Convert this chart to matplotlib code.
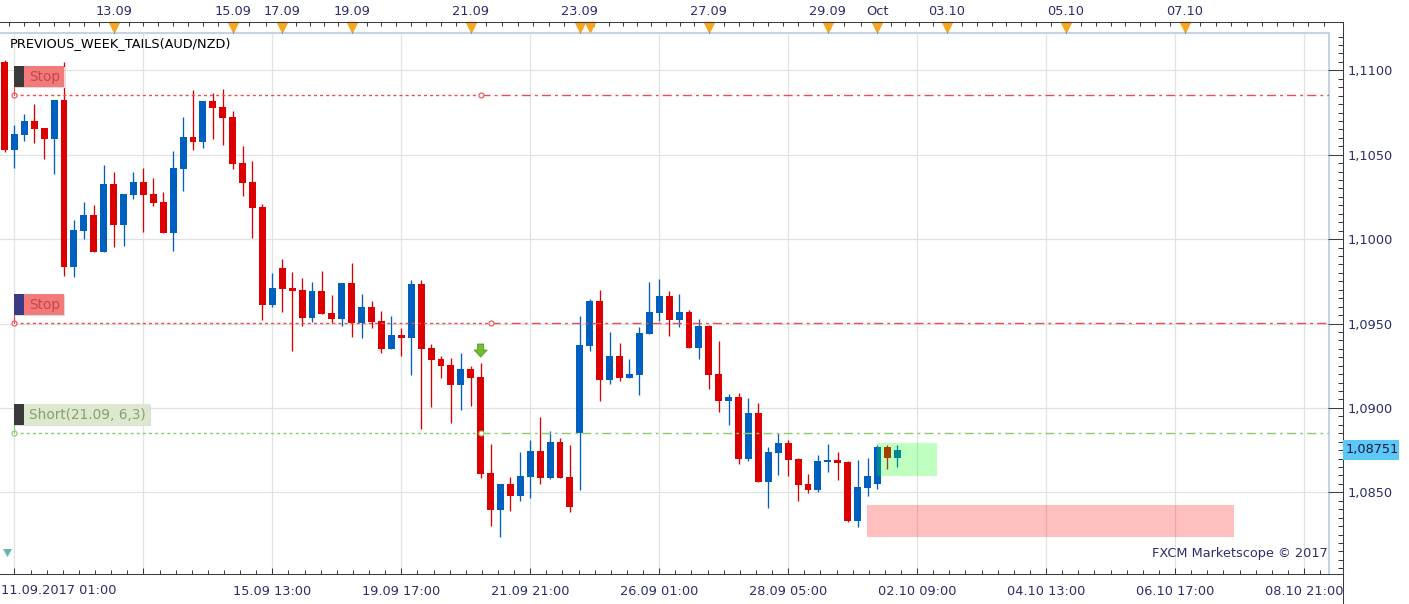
import numpy as np
import matplotlib
matplotlib.use('Agg')
import matplotlib.pyplot as plt
from matplotlib.patches import Rectangle, Polygon
from matplotlib.lines import Line2D
from matplotlib.ticker import FixedLocator
import matplotlib.transforms as mtransforms

plt.rcParams['font.family'] = ['DejaVu Sans']
plt.rcParams['lines.scale_dashes'] = False

# ---------------- data (4h candles, AUD/NZD) ----------------
opens = [1.11051, 1.10528, 1.10617, 1.10700, 1.10658, 1.10593, 1.10824, 1.09835, 1.10048, 1.10143,
         1.09924, 1.10326, 1.10084, 1.10261, 1.10338, 1.10267, 1.10220, 1.10036, 1.10415, 1.10605,
         1.10575, 1.10818, 1.10783, 1.10723, 1.10451, 1.10338, 1.10190, 1.09610, 1.09829, 1.09710,
         1.09698, 1.09533, 1.09693, 1.09562, 1.09527, 1.09740, 1.09503, 1.09598, 1.09515, 1.09349,
         1.09432, 1.09414, 1.09734, 1.09355, 1.09290, 1.09254, 1.09136, 1.09231, 1.09183, 1.08614,
         1.08395, 1.08549, 1.08478, 1.08591, 1.08745, 1.08585, 1.08798, 1.08591, 1.08851, 1.09367,
         1.09633, 1.09165, 1.09308, 1.09177, 1.09195, 1.09438, 1.09562, 1.09663, 1.09521, 1.09568,
         1.09355, 1.09485, 1.09201, 1.09041, 1.09065, 1.08697, 1.08970, 1.08561, 1.08733, 1.08792,
         1.08697, 1.08549, 1.08514, 1.08680, 1.08691, 1.08680, 1.08330, 1.08526, 1.08549, 1.08768,
         1.08703]
highs = [1.11061, 1.10676, 1.10741, 1.10800, 1.10658, 1.10824, 1.11049, 1.10113, 1.10220, 1.10202,
         1.10439, 1.10398, 1.10267, 1.10398, 1.10421, 1.10362, 1.10279, 1.10522, 1.10723, 1.10883,
         1.10818, 1.10866, 1.10889, 1.10759, 1.10552, 1.10463, 1.10208, 1.09799, 1.09882, 1.09805,
         1.09770, 1.09746, 1.09811, 1.09669, 1.09740, 1.09858, 1.09675, 1.09633, 1.09574, 1.09544,
         1.09473, 1.09758, 1.09758, 1.09379, 1.09308, 1.09296, 1.09325, 1.09248, 1.09266, 1.08786,
         1.08549, 1.08591, 1.08739, 1.08810, 1.08946, 1.08863, 1.08822, 1.08780, 1.09544, 1.09645,
         1.09698, 1.09450, 1.09385, 1.09290, 1.09479, 1.09746, 1.09764, 1.09693, 1.09675, 1.09580,
         1.09527, 1.09491, 1.09396, 1.09082, 1.09088, 1.09059, 1.09029, 1.08768, 1.08851, 1.08810,
         1.08703, 1.08608, 1.08721, 1.08786, 1.08739, 1.08685, 1.08691, 1.08703, 1.08780, 1.08780,
         1.08780]
lows = [1.10518, 1.10421, 1.10581, 1.10569, 1.10475, 1.10386, 1.09781, 1.09776, 1.10001, 1.09924,
        1.09924, 1.09953, 1.09959, 1.10238, 1.10042, 1.10196, 1.10036, 1.09930, 1.10285, 1.10528,
        1.10540, 1.10593, 1.10558, 1.10415, 1.10255, 1.10007, 1.09521, 1.09598, 1.09568, 1.09337,
        1.09485, 1.09509, 1.09556, 1.09503, 1.09485, 1.09420, 1.09414, 1.09473, 1.09325, 1.09349,
        1.09308, 1.09195, 1.08875, 1.09005, 1.09177, 1.08911, 1.08988, 1.09011, 1.08585, 1.08300,
        1.08235, 1.08389, 1.08449, 1.08466, 1.08549, 1.08579, 1.08585, 1.08383, 1.08514, 1.09337,
        1.09041, 1.09142, 1.09159, 1.09177, 1.09076, 1.09438, 1.09515, 1.09426, 1.09479, 1.09355,
        1.09290, 1.09112, 1.08976, 1.08899, 1.08668, 1.08685, 1.08561, 1.08407, 1.08603, 1.08597,
        1.08449, 1.08496, 1.08502, 1.08620, 1.08573, 1.08324, 1.08294, 1.08478, 1.08520, 1.08638,
        1.08650]
closes = [1.10528, 1.10623, 1.10700, 1.10652, 1.10593, 1.10824, 1.09835, 1.10054, 1.10143, 1.09924,
          1.10326, 1.10084, 1.10267, 1.10338, 1.10261, 1.10214, 1.10036, 1.10421, 1.10605, 1.10575,
          1.10818, 1.10777, 1.10717, 1.10445, 1.10332, 1.10184, 1.09610, 1.09710, 1.09704, 1.09693,
          1.09533, 1.09693, 1.09556, 1.09527, 1.09740, 1.09503, 1.09598, 1.09509, 1.09349, 1.09432,
          1.09414, 1.09734, 1.09349, 1.09284, 1.09248, 1.09136, 1.09231, 1.09177, 1.08608, 1.08395,
          1.08549, 1.08478, 1.08597, 1.08745, 1.08585, 1.08798, 1.08585, 1.08413, 1.09373, 1.09633,
          1.09165, 1.09308, 1.09177, 1.09201, 1.09444, 1.09568, 1.09663, 1.09521, 1.09568, 1.09355,
          1.09485, 1.09195, 1.09041, 1.09065, 1.08697, 1.08970, 1.08561, 1.08739, 1.08792, 1.08691,
          1.08543, 1.08514, 1.08685, 1.08691, 1.08674, 1.08330, 1.08531, 1.08597, 1.08768, 1.08703,
          1.08751]

grid_idx = [1, 14, 27, 40, 53, 66, 79, 92, 105, 118, 131]
bottom_labels = ['', '', '15.09 13:00', '19.09 17:00', '21.09 21:00', '26.09 01:00',
                 '28.09 05:00', '02.10 09:00', '04.10 13:00', '06.10 17:00', '08.10 21:00']
first_label = '11.09.2017 01:00'
top_idx = [11, 23, 28, 35, 47, 58, 71, 83, 88, 95, 107, 119]
top_labels = ['13.09', '15.09', '17.09', '19.09', '21.09', '23.09', '27.09', '29.09',
              'Oct', '03.10', '05.10', '07.10']
event_idx = [11, 23, 28, 35, 47, 58, 59, 71, 83, 88, 95, 107, 119]
price_levels = [1.0850, 1.0900, 1.0950, 1.1000, 1.1050, 1.1100]

stop_level_1 = 1.10854
stop_level_2 = 1.09501
entry_level = 1.08853
signal_idx = 48
line_start_idx = 1
take_profit_zone = [87.97, 94.0, 1.08597, 1.08792]
stop_zone = [86.95, 123.95, 1.08234, 1.08424]
last_price = 1.08751
title = 'PREVIOUS_WEEK_TAILS(AUD/NZD)'
watermark = 'FXCM Marketscope © 2017'

# ---------------- layout ----------------
W, H = 1409, 604
PL, PR, PT, PB = 0, 1329, 33, 574
AXX = 1343
TOPY = 22
XLIM = (-0.454, 133.52)
YLIM = (1.08016, 1.11221)

RED = '#dd0000'
BLUE = '#0060c0'
AXC = '#3c3c3c'
LBL = '#2c2c6c'
FS = 9.3

fig = plt.figure(figsize=(W / 100, H / 100), dpi=100)
fig.patch.set_facecolor('white')

ax = fig.add_axes([PL / W, 1 - PB / H, (PR - PL) / W, (PB - PT) / H])
ax.set_xlim(*XLIM)
ax.set_ylim(*YLIM)
ax.set_facecolor('white')
for s in ['left', 'bottom']:
    ax.spines[s].set_visible(False)
for s in ['top', 'right']:
    ax.spines[s].set_color('#c6d3e4')
    ax.spines[s].set_linewidth(1.5)

# grid
for lv in price_levels:
    ax.axhline(lv, color='#e2e2e2', lw=0.9, zorder=0)
for g in grid_idx:
    ax.axvline(g, color='#e2e2e2', lw=0.9, zorder=0)

# bottom ticks
ax.set_yticks([])
ax.xaxis.set_major_locator(FixedLocator(grid_idx))
ax.set_xticklabels(bottom_labels)
ax.xaxis.set_minor_locator(FixedLocator(np.arange(grid_idx[0] - 13, XLIM[1], 13 / 8)))
ax.tick_params(axis='x', which='both', direction='in', width=0.75, color=AXC,
               labelsize=FS, labelcolor=LBL, pad=8, bottom=True, top=False)
ax.tick_params(axis='x', which='major', length=4.5)
ax.tick_params(axis='x', which='minor', length=3.0)
fig.text(1 / W, 1 - 591 / H, first_label, fontsize=FS, color=LBL, ha='left', va='center')

# candles
x = np.arange(len(opens))
o = np.array(opens); h = np.array(highs); l = np.array(lows); c = np.array(closes)
cols = [BLUE if cc >= oo else RED for oo, cc in zip(o, c)]
ax.vlines(x, l, h, colors=cols, lw=0.95, zorder=2)
bottoms = np.minimum(o, c)
heights = np.maximum(np.abs(c - o), 0.00007)
ax.bar(x, heights, bottom=bottoms, width=0.7, color=cols, linewidth=0, zorder=3)

# zones
tp = take_profit_zone
ax.add_patch(Rectangle((tp[0], tp[2]), tp[1] - tp[0], tp[3] - tp[2],
                       facecolor=(0, 1, 0, 0.25), edgecolor='none', zorder=4))
sz = stop_zone
ax.add_patch(Rectangle((sz[0], sz[2]), sz[1] - sz[0], sz[3] - sz[2],
                       facecolor=(1, 0, 0, 0.25), edgecolor='none', zorder=4))

# level lines
def level_line(level, cidx, color, right_dashes):
    ax.plot([line_start_idx, cidx], [level, level], color=color, lw=1.0,
            dashes=(2.2, 2.2), zorder=5)
    ax.plot([cidx, XLIM[1]], [level, level], color=color, lw=1.0,
            dashes=right_dashes, zorder=5)
    ax.plot([line_start_idx, cidx], [level, level], ls='none', marker='o', ms=3.6,
            mfc='white', mec=color, mew=0.8, zorder=6)

RLINE = '#ee4c4c'
GLINE = '#8ec96c'
level_line(stop_level_1, signal_idx, RLINE, (6.5, 3, 2, 3))
level_line(stop_level_2, signal_idx + 1, RLINE, (6.5, 3, 2, 3))
level_line(entry_level, signal_idx, GLINE, (6.5, 3, 2, 3))


def to_px(xd, yd):
    dx, dy = ax.transData.transform((xd, yd))
    return dx, H - dy


def rect_px(x0, y0, w, hgt, color, z=10):
    fig.add_artist(Rectangle((x0 / W, 1 - (y0 + hgt) / H), w / W, hgt / H,
                             transform=fig.transFigure, facecolor=color,
                             edgecolor='none', zorder=z))


def tag(level, text, dark, fill, tcolor, width, lcolor):
    px, py = to_px(line_start_idx, level)
    bh, gap = 21, 8
    top = py - gap - bh
    rect_px(px + 1, top + 1, 10 + width, bh, '#dcdcdc', z=9)
    rect_px(px, top, 10, bh, dark)
    rect_px(px + 10, top, width, bh, fill)
    fig.text((px + 15) / W, 1 - (top + bh / 2 + 0.5) / H, text, color=tcolor,
             fontsize=9.8, ha='left', va='center', zorder=11)
    fig.add_artist(Line2D([px / W, px / W], [1 - (py - gap) / H, 1 - py / H],
                          transform=fig.transFigure, color=lcolor, lw=0.8, zorder=8))


tag(stop_level_1, 'Stop', '#3a3a3a', '#f27a7a', '#c64848', 40, RLINE)
tag(stop_level_2, 'Stop', '#3b3b85', '#f27a7a', '#c64848', 40, RLINE)
tag(entry_level, 'Short(21.09, 6,3)', '#3a3a3a', '#dde9cf', '#8c9c72', 126, GLINE)

# signal arrow above the entry candle
ax_, ay_ = to_px(signal_idx, highs[signal_idx])
tip = ay_ - 6
arrow = [(ax_ - 3, tip - 13), (ax_ + 3, tip - 13), (ax_ + 3, tip - 7), (ax_ + 6.5, tip - 7),
         (ax_, tip), (ax_ - 6.5, tip - 7), (ax_ - 3, tip - 7)]
fig.add_artist(Polygon([(a / W, 1 - b / H) for a, b in arrow], closed=True,
                       transform=fig.transFigure, facecolor='#72bd2e',
                       edgecolor='#4f9a1e', lw=0.6, zorder=10))

# small teal marker bottom-left
fig.add_artist(Polygon([(3 / W, 1 - 549 / H), (12 / W, 1 - 549 / H), (7.5 / W, 1 - 557 / H)],
                       closed=True, transform=fig.transFigure, facecolor='#6cb4ae',
                       edgecolor='none', zorder=10))

# ---------------- right price axis ----------------
axr = fig.add_axes([0, 1 - PB / H, AXX / W, (PB - PT) / H], frameon=False)
axr.patch.set_visible(False)
axr.set_ylim(*YLIM)
axr.set_xlim(0, 1)
axr.set_xticks([])
axr.yaxis.tick_right()
axr.set_yticks(price_levels)
axr.set_yticklabels([f'{v:.4f}'.replace('.', ',') for v in price_levels])
axr.yaxis.set_minor_locator(FixedLocator(np.arange(1.0800, 1.1125, 0.0005)))
axr.tick_params(axis='y', which='major', direction='in', length=10.5, width=0.75,
                color=AXC, labelsize=FS, labelcolor=LBL, pad=3)
axr.tick_params(axis='y', which='minor', direction='in', length=3.6, width=0.75, color=AXC)
fig.add_artist(Line2D([AXX / W, AXX / W], [0, 1 - TOPY / H], transform=fig.transFigure,
                      color=AXC, lw=0.75))

# current price tag
_, ly = to_px(0, last_price)
rect_px(AXX, ly - 10, 56, 20, '#5bc8f7', z=12)
fig.text((AXX + 3) / W, 1 - ly / H, f'{last_price:.5f}'.replace('.', ','), fontsize=FS,
         color='#1a1a40', ha='left', va='center', zorder=13)

# ---------------- top date axis ----------------
axt = fig.add_axes([PL / W, 1 - PB / H, (PR - PL) / W, (PB - TOPY) / H], frameon=False)
axt.patch.set_visible(False)
axt.set_xlim(*XLIM)
axt.set_ylim(0, 1)
axt.set_yticks([])
axt.xaxis.tick_top()
axt.set_xticks(top_idx)
axt.set_xticklabels(top_labels)
minor_top = []
bounds = [top_idx[0] - 12] + top_idx + [XLIM[1] + 1]
for a, b in zip(bounds[:-1], bounds[1:]):
    nstep = max(1, int(round((b - a) / 1.5)))
    minor_top.extend(np.linspace(a, b, nstep + 1)[1:-1])
axt.xaxis.set_minor_locator(FixedLocator(minor_top))
axt.tick_params(axis='x', which='major', direction='in', length=8, width=0.75, color=AXC,
                labelsize=FS, labelcolor=LBL, pad=3, top=True, bottom=False,
                labeltop=True, labelbottom=False)
axt.tick_params(axis='x', which='minor', direction='in', length=3, width=0.75, color=AXC,
                top=True, bottom=False)
tri_tr = mtransforms.offset_copy(axt.get_xaxis_transform(), fig=fig, x=0, y=-4.5, units='dots')
axt.plot(event_idx, [1] * len(event_idx), ls='none', marker='v', ms=7.5, color='#f5a623',
         transform=tri_tr, clip_on=False, zorder=5)
fig.add_artist(Line2D([0, AXX / W], [1 - TOPY / H, 1 - TOPY / H], transform=fig.transFigure,
                      color=AXC, lw=0.75))
fig.add_artist(Line2D([0, AXX / W], [1 - PB / H, 1 - PB / H], transform=fig.transFigure,
                      color=AXC, lw=0.75))

# texts
fig.text(10 / W, 1 - 44 / H, title, fontsize=FS, color='black', ha='left', va='center')
fig.text(1328 / W, 1 - 553 / H, watermark, fontsize=FS, color=LBL, ha='right', va='center')

fig.savefig('out.png', dpi=100, facecolor='white')
